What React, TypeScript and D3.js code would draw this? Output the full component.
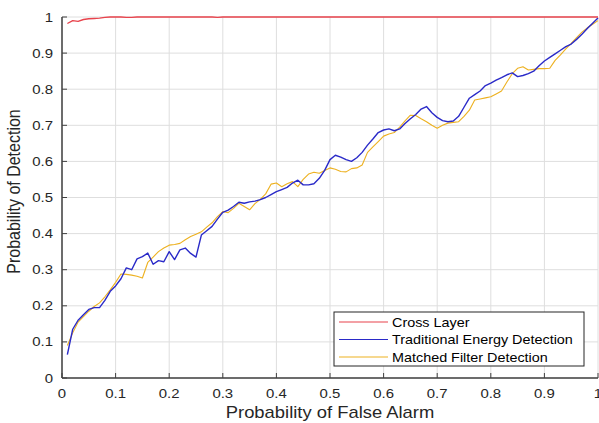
import React from "react";
import * as d3 from "d3";

const xValues: number[] = [
  0.01, 0.02, 0.03, 0.04, 0.05, 0.06, 0.07, 0.08, 0.09, 0.1,
  0.11, 0.12, 0.13, 0.14, 0.15, 0.16, 0.17, 0.18, 0.19, 0.2,
  0.21, 0.22, 0.23, 0.24, 0.25, 0.26, 0.27, 0.28, 0.29, 0.3,
  0.31, 0.32, 0.33, 0.34, 0.35, 0.36, 0.37, 0.38, 0.39, 0.4,
  0.41, 0.42, 0.43, 0.44, 0.45, 0.46, 0.47, 0.48, 0.49, 0.5,
  0.51, 0.52, 0.53, 0.54, 0.55, 0.56, 0.57, 0.58, 0.59, 0.6,
  0.61, 0.62, 0.63, 0.64, 0.65, 0.66, 0.67, 0.68, 0.69, 0.7,
  0.71, 0.72, 0.73, 0.74, 0.75, 0.76, 0.77, 0.78, 0.79, 0.8,
  0.81, 0.82, 0.83, 0.84, 0.85, 0.86, 0.87, 0.88, 0.89, 0.9,
  0.91, 0.92, 0.93, 0.94, 0.95, 0.96, 0.97, 0.98, 0.99, 1.0,
];

const crossLayer: number[] = [
  0.982, 0.99, 0.988, 0.993, 0.995, 0.996, 0.997, 0.999, 1.0, 1.0,
  1.0, 0.999, 0.999, 1.0, 1.0, 1.0, 1.0, 1.0, 1.0, 1.0,
  1.0, 1.0, 1.0, 1.0, 1.0, 1.0, 1.0, 1.0, 0.999, 1.0,
  1.0, 1.0, 1.0, 1.0, 1.0, 1.0, 1.0, 1.0, 1.0, 1.0,
  1.0, 1.0, 1.0, 1.0, 1.0, 1.0, 1.0, 1.0, 1.0, 1.0,
  1.0, 1.0, 1.0, 1.0, 1.0, 1.0, 1.0, 1.0, 1.0, 1.0,
  1.0, 1.0, 1.0, 1.0, 1.0, 1.0, 1.0, 1.0, 1.0, 1.0,
  1.0, 1.0, 1.0, 1.0, 1.0, 1.0, 1.0, 1.0, 1.0, 1.0,
  1.0, 1.0, 1.0, 1.0, 1.0, 1.0, 1.0, 1.0, 1.0, 1.0,
  1.0, 1.0, 1.0, 1.0, 1.0, 1.0, 1.0, 1.0, 1.0, 1.0,
];

const energyDetection: number[] = [
  0.065, 0.135, 0.16, 0.175, 0.19, 0.195, 0.195, 0.215, 0.24, 0.255,
  0.275, 0.305, 0.3, 0.33, 0.336, 0.346, 0.315, 0.325, 0.322, 0.35,
  0.328, 0.355, 0.36, 0.345, 0.335, 0.396, 0.408, 0.42, 0.44, 0.459,
  0.465, 0.475, 0.487, 0.484, 0.488, 0.49, 0.494, 0.5, 0.508, 0.516,
  0.522, 0.528, 0.54, 0.548, 0.535, 0.535, 0.538, 0.553, 0.575, 0.605,
  0.617, 0.612, 0.605, 0.6, 0.61, 0.625, 0.645, 0.662, 0.68, 0.687,
  0.69, 0.685, 0.69, 0.705, 0.718, 0.73, 0.745, 0.752, 0.735, 0.722,
  0.713, 0.71, 0.712, 0.725, 0.75, 0.775, 0.785, 0.795, 0.81, 0.817,
  0.825, 0.832, 0.84, 0.845, 0.835, 0.838, 0.843, 0.85, 0.865, 0.878,
  0.888, 0.898, 0.908, 0.918, 0.925, 0.938, 0.952, 0.968, 0.983, 0.997,
];

const matchedFilter: number[] = [
  0.09, 0.125, 0.155, 0.17, 0.185, 0.198, 0.208, 0.225, 0.244, 0.265,
  0.288, 0.287, 0.285, 0.282, 0.277, 0.32, 0.335, 0.35, 0.36, 0.368,
  0.37, 0.373, 0.383, 0.392, 0.398, 0.405, 0.418, 0.43, 0.447, 0.461,
  0.458, 0.47, 0.484, 0.475, 0.466, 0.483, 0.495, 0.51, 0.537, 0.54,
  0.53, 0.538, 0.544, 0.53, 0.55, 0.565, 0.57, 0.567, 0.575, 0.582,
  0.578, 0.572, 0.571, 0.58, 0.582, 0.59, 0.625, 0.64, 0.655, 0.67,
  0.676, 0.68, 0.695, 0.712, 0.728, 0.727, 0.718, 0.71, 0.7, 0.692,
  0.7, 0.706, 0.708, 0.71, 0.725, 0.742, 0.77, 0.773, 0.776, 0.779,
  0.787, 0.795, 0.82, 0.843, 0.858, 0.862, 0.853, 0.855, 0.857, 0.857,
  0.858, 0.88, 0.895, 0.912, 0.927, 0.943, 0.958, 0.97, 0.98, 0.99,
];

const xTicks: number[] = [0, 0.1, 0.2, 0.3, 0.4, 0.5, 0.6, 0.7, 0.8, 0.9, 1];
const yTicks: number[] = [0, 0.1, 0.2, 0.3, 0.4, 0.5, 0.6, 0.7, 0.8, 0.9, 1];
const seriesNames: string[] = ["Cross Layer", "Traditional Energy Detection", "Matched Filter Detection"];
const seriesColors: string[] = ["#e8434c", "#2a2ac8", "#edb120"];
const xLabel = "Probability of False Alarm";
const yLabel = "Probability of Detection";

const W = 599;
const H = 423;
const M = { left: 62, right: 598, top: 17, bottom: 378 };
const SX = 1.15;
const FONT = "'Liberation Sans', Arial, Helvetica, sans-serif";

function fmt(v: number): string {
  return d3.format("~g")(+v.toFixed(2));
}

export default function App() {
  const x = d3.scaleLinear().domain([0, 1]).range([M.left, M.right]);
  const y = d3.scaleLinear().domain([0, 1]).range([M.bottom, M.top]);
  const series = [crossLayer, energyDetection, matchedFilter];
  const widths = [1.4, 1.4, 1.1];
  const line = (vals: number[]) =>
    d3.line<number>().x((_, i) => x(xValues[i])).y((v) => y(v))(vals) || "";

  const legend = { x: 334, y: 312, w: 250, h: 54 };
  const rowY = [322, 339.5, 357];

  return (
    <svg
      width={W}
      height={H}
      style={{ position: "absolute", left: 0, top: 0, background: "#fff" }}
      fontFamily={FONT}
    >
      <rect x={0} y={0} width={W} height={H} fill="#fff" />
      {/* grid */}
      {xTicks.map((t, i) => (
        <line key={"gx" + i} x1={x(t)} x2={x(t)} y1={y(0)} y2={y(1)} stroke="#dedede" strokeWidth={1} />
      ))}
      {yTicks.map((t, i) => (
        <line key={"gy" + i} x1={x(0)} x2={x(1)} y1={y(t)} y2={y(t)} stroke="#dedede" strokeWidth={1} />
      ))}
      {/* series */}
      {[2, 1, 0].map((k) => (
        <path key={"s" + k} d={line(series[k])} fill="none" stroke={seriesColors[k]} strokeWidth={widths[k]} strokeLinejoin="round" />
      ))}
      {/* axes */}
      <line x1={x(0)} x2={x(1)} y1={y(0)} y2={y(0)} stroke="#404040" strokeWidth={1.5} />
      <line x1={x(0)} x2={x(0)} y1={y(0)} y2={y(1)} stroke="#404040" strokeWidth={1.5} />
      {xTicks.map((t, i) => (
        <g key={"xt" + i}>
          <line x1={x(t)} x2={x(t)} y1={y(0)} y2={y(0) - 5} stroke="#404040" strokeWidth={1} />
          <text
            transform={`translate(${x(t)},${398}) scale(${SX},1)`}
            textAnchor="middle"
            fontSize={13}
            fill="#262626"
          >
            {fmt(t)}
          </text>
        </g>
      ))}
      {yTicks.map((t, i) => (
        <g key={"yt" + i}>
          <line x1={x(0)} x2={x(0) + 5} y1={y(t)} y2={y(t)} stroke="#404040" strokeWidth={1} />
          <text
            transform={`translate(${53},${y(t) + 4.5}) scale(${SX},1)`}
            textAnchor="end"
            fontSize={13}
            fill="#262626"
          >
            {fmt(t)}
          </text>
        </g>
      ))}
      {/* axis labels */}
      <text
        transform={`translate(${(M.left + M.right) / 2},${418}) scale(${SX},1)`}
        textAnchor="middle"
        fontSize={16}
        fill="#262626"
      >
        {xLabel}
      </text>
      <text
        transform={`translate(${20},${(M.top + M.bottom) / 2 - 6}) rotate(-90) scale(1,${SX})`}
        textAnchor="middle"
        fontSize={16}
        fill="#262626"
      >
        {yLabel}
      </text>
      {/* legend */}
      <rect x={legend.x} y={legend.y} width={legend.w} height={legend.h} fill="#fff" stroke="#262626" strokeWidth={1} />
      {seriesNames.map((n, i) => (
        <g key={"lg" + i}>
          <line x1={339} x2={388} y1={rowY[i]} y2={rowY[i]} stroke={seriesColors[i]} strokeWidth={1.2} />
          <text
            transform={`translate(${392},${rowY[i] + 4.5}) scale(${SX},1)`}
            fontSize={12.5}
            fill="#000"
          >
            {n}
          </text>
        </g>
      ))}
    </svg>
  );
}
